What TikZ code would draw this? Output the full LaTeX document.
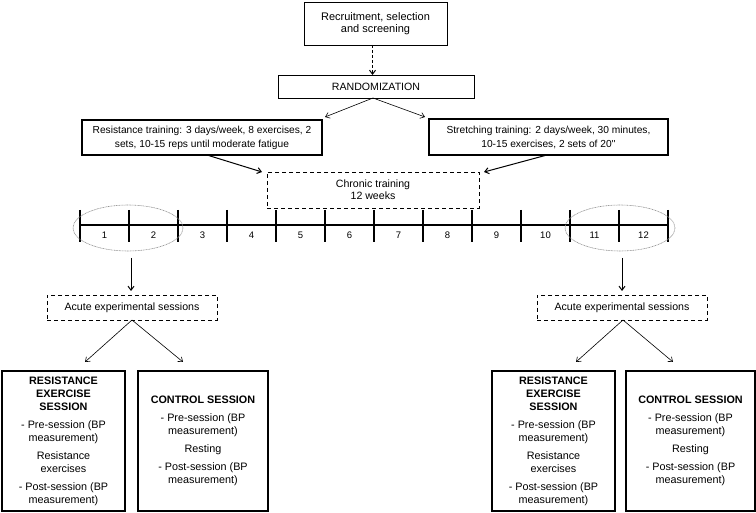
\documentclass[tikz,border=0pt]{standalone}
\usepackage{fontspec}
\newfontfamily\arial{Liberation Sans}
\usetikzlibrary{arrows.meta}
\tikzset{
  every node/.style={font=\arial\fontsize{10.6}{12}\selectfont, inner sep=0pt, align=center},
  thinbox/.style={draw, line width=0.8pt, rectangle},
  thickbox/.style={draw, line width=1.4pt, rectangle, font=\arial\fontsize{10.2}{14}\selectfont},
  dashbox/.style={draw, line width=0.8pt, dash pattern=on 4pt off 3pt, rectangle},
  sessbox/.style={draw, line width=1.3pt, rectangle, minimum height=140pt,
    font=\arial\fontsize{10.8}{13}\selectfont},
  arr/.style={-{Straight Barb[length=4pt,width=6pt]}, line width=0.6pt},
  arrthick/.style={-{Straight Barb[length=4pt,width=6pt]}, line width=1pt},
  tick/.style={line width=1.1pt},
  num/.style={font=\arial\fontsize{9.5}{11}\selectfont},
  ell/.style={draw=gray!85, line width=0.6pt, dash pattern=on 1pt off 0.6pt},
}
\begin{document}
\begin{tikzpicture}[x=1pt,y=-1pt]
\useasboundingbox (0,0) rectangle (756,513);
% top
\node[thinbox, minimum width=143pt, minimum height=43pt, font=\arial\fontsize{11}{12}\selectfont] (recruit) at (375.5,23.5) {Recruitment, selection\\and screening};
\node[thinbox, minimum width=196pt, minimum height=23pt] (rand) at (376,86.5) {RANDOMIZATION};
\draw[arrthick, dash pattern=on 3pt off 2pt] (372.5,45) coordinate (rs) -- (372.5,75) coordinate (re);
\coordinate (rl) at (325,117);
\coordinate (rr) at (425,117);
\draw[arr] (373,98) coordinate (rb) -- (rl);
\draw[arr] (rb) -- (rr);
\node[thickbox, minimum width=240pt, minimum height=35pt] (rt) at (202,137.5) {Resistance training: 3 days/week, 8 exercises, 2\\sets, 10-15 reps until moderate fatigue};
\node[thickbox, minimum width=239pt, minimum height=36pt] (st) at (548.5,137) {Stretching training: 2 days/week, 30 minutes,\\10-15 exercises, 2 sets of 20''};
\node[dashbox, minimum width=212pt, minimum height=36pt] (chronic) at (373,190) {Chronic training\\12 weeks};
\draw[arrthick] (207,155) -- (262,172);
\draw[arrthick] (547,155) -- (484,172);
% timeline
\draw[line width=1.5pt] (80,225) coordinate (t0) -- (668,225) coordinate (t12);
\foreach \i in {0,...,12} {
  \draw[tick] ({80+49*\i},210) -- ({80+49*\i},242);
}
\foreach \i in {1,...,12} {
  \node[num] (n\i) at ({55.5+49*\i},235) {\i};
}
\draw[ell] (128,228) ellipse [x radius=55, y radius=23];
\draw[ell] (620,228) ellipse [x radius=55, y radius=23];
% acute
\node[dashbox, minimum width=170pt, minimum height=25pt] (acl) at (132,307.5) {Acute experimental sessions};
\node[dashbox, minimum width=170pt, minimum height=25pt] (acr) at (622,307.5) {Acute experimental sessions};
\draw[arrthick] (131,258) -- (131,291);
\draw[arrthick] (622,258) -- (622,291);
\draw[arr] (132,320) -- (85,362);
\draw[arr] (132,320) -- (183,362);
\draw[arr] (623,320) -- (576,362);
\draw[arr] (623,320) -- (673,362);
% sessions
\node[sessbox, minimum width=123pt] (resl) at (63.5,441) {\textbf{RESISTANCE}\\\textbf{EXERCISE}\\\textbf{SESSION}\\[5pt]- Pre-session (BP\\measurement)\\[5pt]Resistance\\exercises\\[5pt]- Post-session (BP\\measurement)};
\node[sessbox, minimum width=130pt] (conl) at (203,441) {\textbf{CONTROL SESSION}\\[5pt]- Pre-session (BP\\measurement)\\[5pt]Resting\\[5pt]- Post-session (BP\\measurement)};
\node[sessbox, minimum width=123pt] (resr) at (553.5,441) {\textbf{RESISTANCE}\\\textbf{EXERCISE}\\\textbf{SESSION}\\[5pt]- Pre-session (BP\\measurement)\\[5pt]Resistance\\exercises\\[5pt]- Post-session (BP\\measurement)};
\node[sessbox, minimum width=129pt] (conr) at (690.5,441) {\textbf{CONTROL SESSION}\\[5pt]- Pre-session (BP\\measurement)\\[5pt]Resting\\[5pt]- Post-session (BP\\measurement)};
\end{tikzpicture}
\end{document}
